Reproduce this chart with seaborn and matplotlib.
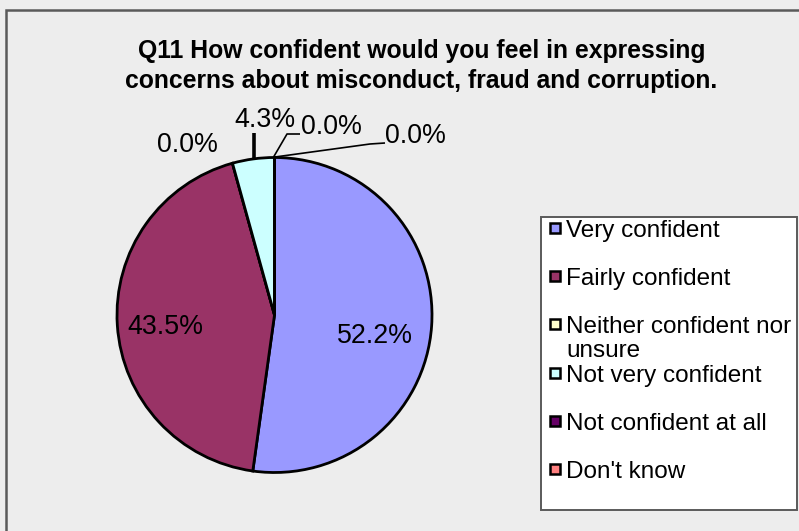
import matplotlib
matplotlib.use("Agg")
import matplotlib.pyplot as plt
from matplotlib.patches import Rectangle
import seaborn as sns

# Survey responses (percent of respondents)
categories = [
    "Very confident",
    "Fairly confident",
    "Neither confident nor\nunsure",
    "Not very confident",
    "Not confident at all",
    "Don't know",
]
percentages = [52.2, 43.5, 0.0, 4.3, 0.0, 0.0]
slice_colors = ["#9999FF", "#993366", "#FFFFCC", "#CCFFFF", "#660066", "#FF8080"]
title_lines = [
    "Q11 How confident would you feel in expressing",
    "concerns about misconduct, fraud and corruption.",
]

sns.set_style("white")
plt.rcParams["font.family"] = ["Liberation Sans", "DejaVu Sans"]
palette = sns.color_palette(slice_colors)

W, H = 799, 531
BG = "#EDEDED"
fig = plt.figure(figsize=(W / 100, H / 100), dpi=100, facecolor=BG)
ax = fig.add_axes([0, 0, 1, 1])
ax.set_facecolor(BG)


def Y(v):
    """Convert a top-down pixel row into axis coordinates."""
    return H - v


# Pie (clockwise from 12 o'clock)
cx, cy, R = 274.5, Y(315), 157.5
wedges, _ = ax.pie(
    percentages,
    colors=palette,
    startangle=90,
    counterclock=False,
    center=(cx, cy),
    radius=R,
    wedgeprops=dict(edgecolor="black", linewidth=2.0),
    normalize=True,
)
ax.set_xlim(0, W)
ax.set_ylim(0, H)
ax.set_aspect("equal")
ax.axis("off")

# Outer chart frame
ax.add_patch(Rectangle((6, Y(H + 20)), W + 20, H + 10, fill=False,
                       edgecolor="#5A5A5A", linewidth=1.8, zorder=0))

# Title
for line, base in zip(title_lines, [58, 88]):
    ax.text(421.5, Y(base), line, ha="center", va="baseline",
            fontsize=17.8, fontweight="bold", color="black")

# Data labels: positions (x, y) in pixel rows and optional leader lines
label_pos = [(375, 336), (165, 327), (187, 145), (265, 120), (331, 127), (415, 136)]
leaders = [
    None,
    None,
    None,
    [(254, 158), (254, 133)],
    [(273, 158), (287, 134), (300, 134)],
    [(275, 157), (370, 144), (385, 143)],
]
lab_fs = 19.3
for val, (lx, ly), lead in zip(percentages, label_pos, leaders):
    ax.text(lx, Y(ly), f"{val:.1f}%", ha="center", va="center",
            fontsize=lab_fs, color="black", zorder=5)
    if lead is not None:
        xs = [p[0] for p in lead]
        ys = [Y(p[1]) for p in lead]
        lw = 2.6 if len(lead) == 2 else 1.2
        ax.plot(xs, ys, color="black", linewidth=lw, zorder=4,
                solid_capstyle="butt")

# Legend box
lx0, ly0, lx1, ly1 = 541, 217, 797, 510
ax.add_patch(Rectangle((lx0, Y(ly1)), lx1 - lx0, ly1 - ly0, facecolor="white",
                       edgecolor="#5A5A5A", linewidth=1.4, zorder=2))
first_baseline = 237
entry_step = 48.2
line_step = 24
for i, (name, col) in enumerate(zip(categories, palette)):
    base = first_baseline + i * entry_step
    ax.add_patch(Rectangle((549.5, Y(base - 4)), 10, 10, facecolor=col,
                           edgecolor="black", linewidth=1.8, zorder=3))
    for k, part in enumerate(name.split("\n")):
        ax.text(566, Y(base + k * line_step), part, ha="left", va="baseline",
                fontsize=17.5, color="black", zorder=3)

fig.savefig("out.png", dpi=100, facecolor=BG)
